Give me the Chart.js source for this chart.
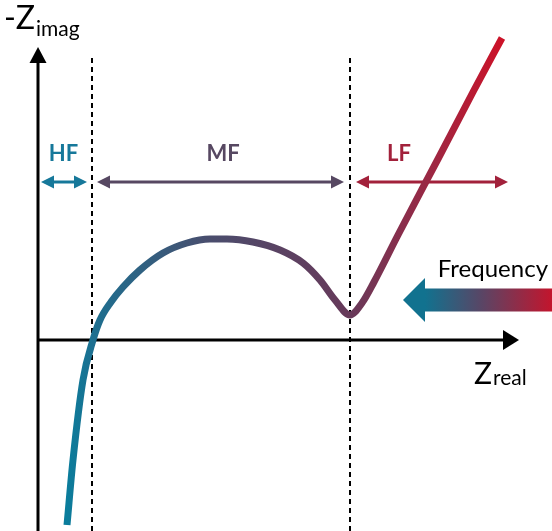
<!DOCTYPE html>
<html>
<head>
<meta charset="utf-8">
<script src="https://cdn.jsdelivr.net/npm/chart.js@4.4.1/dist/chart.umd.min.js"></script>
<style>
  html, body { margin: 0; padding: 0; background: #fff; }
  #wrap { width: 552px; height: 531px; position: relative; }
</style>
</head>
<body>
<div id="wrap"><canvas id="c"></canvas></div>
<script>
// Nyquist curve in schematic units: real part vs. negative imaginary part
const zReal = [29, 35, 45, 55, 62, 73, 85, 102, 125, 149, 172, 189, 215, 242, 265, 282, 297, 312, 324, 336, 360, 400, 435, 464];
const zImag = [-185, -120, -40, 0, 20, 38, 53, 70, 87, 97, 101, 101, 98, 90, 77, 60, 40, 25, 37, 58, 105, 181, 248, 302];

// Frequency regions along the real axis
const boundaries = [54, 312];
const regionNames = ['HF', 'MF', 'LF'];
const regionSpans = [[3, 49], [59, 306], [318, 470]];
const regionLabelX = [25.5, 185, 361];
const regionColors = ['#16789a', '#574862', '#a2213b'];

// Axis titles
const xTitle = ['Z', 'real'];
const yTitle = ['-Z', 'imag'];
const freqLabel = 'Frequency';

const FONT = 'Lato, "Open Sans", sans-serif';

function arrowHead(ctx, tx, ty, dx, dy, len, half) {
  // filled triangle with its tip at (tx,ty) pointing in direction (dx,dy)
  const px = -dy, py = dx;
  ctx.beginPath();
  ctx.moveTo(tx, ty);
  ctx.lineTo(tx - dx * len + px * half, ty - dy * len + py * half);
  ctx.lineTo(tx - dx * len - px * half, ty - dy * len - py * half);
  ctx.closePath();
  ctx.fill();
}

const decorations = {
  id: 'decorations',
  beforeDatasetsDraw(chart) {
    const { ctx, scales: { x, y } } = chart;
    const X = v => x.getPixelForValue(v);
    const Y = v => y.getPixelForValue(v);
    ctx.save();

    // dashed region boundaries
    ctx.strokeStyle = '#000';
    ctx.lineWidth = 2;
    ctx.setLineDash([5, 4]);
    boundaries.forEach(b => {
      ctx.beginPath();
      ctx.moveTo(Math.round(X(b)), Y(282));
      ctx.lineTo(Math.round(X(b)), Y(-191));
      ctx.stroke();
    });
    ctx.setLineDash([]);

    // axes with arrow heads
    ctx.lineWidth = 3;
    ctx.fillStyle = '#000';
    ctx.beginPath();
    ctx.moveTo(X(0), Y(-191));
    ctx.lineTo(X(0), Y(280));
    ctx.stroke();
    arrowHead(ctx, X(0), Y(293), 0, -1, 16, 8.5);
    ctx.beginPath();
    ctx.moveTo(X(0), Y(0));
    ctx.lineTo(X(468), Y(0));
    ctx.stroke();
    arrowHead(ctx, X(481), Y(0), 1, 0, 16, 10);

    // region double arrows and labels
    ctx.lineWidth = 3;
    regionSpans.forEach((s, i) => {
      const c = regionColors[i];
      ctx.strokeStyle = c;
      ctx.fillStyle = c;
      const yy = Y(158);
      ctx.beginPath();
      ctx.moveTo(X(s[0]) + 8, yy);
      ctx.lineTo(X(s[1]) - 8, yy);
      ctx.stroke();
      arrowHead(ctx, X(s[0]), yy, -1, 0, 13, 6.5);
      arrowHead(ctx, X(s[1]), yy, 1, 0, 13, 6.5);
      ctx.font = 'bold 22px ' + FONT;
      ctx.textAlign = 'center';
      ctx.textBaseline = 'alphabetic';
      ctx.fillText(regionNames[i], X(regionLabelX[i]), Y(179));
    });

    // axis titles
    ctx.fillStyle = '#000';
    ctx.textAlign = 'left';
    ctx.font = '30px ' + FONT;
    ctx.fillText(xTitle[0], X(436), Y(-44));
    const zw = ctx.measureText(xTitle[0]).width;
    ctx.font = '21px ' + FONT;
    ctx.fillText(xTitle[1], X(436) + zw + 1, Y(-45));

    ctx.font = '32px ' + FONT;
    ctx.fillText(yTitle[0], X(-34), Y(311));
    const yw = ctx.measureText(yTitle[0]).width;
    ctx.font = '21px ' + FONT;
    ctx.fillText(yTitle[1], X(-34) + yw + 1, Y(304));

    // frequency direction arrow
    const tipX = X(365), tipY = Y(40), headX = X(387), endX = X(514);
    const g = ctx.createLinearGradient(headX, 0, endX, 0);
    g.addColorStop(0, '#11728f');
    g.addColorStop(0.45, '#5a4565');
    g.addColorStop(1, '#c3152d');
    ctx.fillStyle = g;
    ctx.beginPath();
    ctx.moveTo(tipX, tipY);
    ctx.lineTo(headX, tipY - 22);
    ctx.lineTo(headX, tipY - 11.5);
    ctx.lineTo(endX, tipY - 11.5);
    ctx.lineTo(endX, tipY + 11.5);
    ctx.lineTo(headX, tipY + 11.5);
    ctx.lineTo(headX, tipY + 22);
    ctx.closePath();
    ctx.fill();
    ctx.fillStyle = '#000';
    ctx.font = '24px ' + FONT;
    ctx.textAlign = 'right';
    ctx.fillText(freqLabel, X(510), Y(63));

    ctx.restore();
  }
};

function curveGradient(context) {
  const chart = context.chart;
  const { ctx, chartArea, scales } = chart;
  if (!chartArea) return '#5a4565';
  const x0 = scales.x.getPixelForValue(zReal[0]);
  const x1 = scales.x.getPixelForValue(zReal[zReal.length - 1]);
  const g = ctx.createLinearGradient(x0, 0, x1, 0);
  g.addColorStop(0, '#0a7d9c');
  g.addColorStop(0.06, '#1d6f90');
  g.addColorStop(0.33, '#4a4d6d');
  g.addColorStop(0.49, '#5a4262');
  g.addColorStop(0.65, '#673a5a');
  g.addColorStop(0.83, '#9a2844');
  g.addColorStop(1, '#cc1228');
  return g;
}

new Chart(document.getElementById('c'), {
  type: 'line',
  data: {
    datasets: [{
      data: zReal.map((v, i) => ({ x: v, y: zImag[i] })),
      borderColor: curveGradient,
      borderWidth: 7,
      borderCapStyle: 'butt',
      borderJoinStyle: 'round',
      cubicInterpolationMode: 'monotone',
      pointRadius: 0,
      fill: false
    }]
  },
  options: {
    responsive: true,
    maintainAspectRatio: false,
    animation: false,
    layout: { padding: 0 },
    plugins: { legend: { display: false }, tooltip: { enabled: false } },
    scales: {
      x: { type: 'linear', min: -38, max: 514, display: false },
      y: { type: 'linear', min: -191, max: 340, display: false }
    }
  },
  plugins: [decorations]
});
</script>
</body>
</html>
